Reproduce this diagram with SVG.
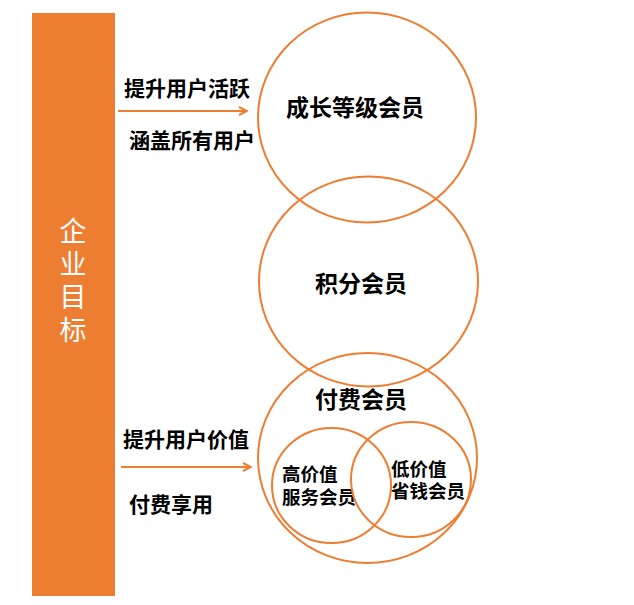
<svg xmlns="http://www.w3.org/2000/svg" width="634" height="605" viewBox="0 0 634 605">
<style>
.c{fill:none;stroke:#ED7D31;stroke-width:2}
.t{font-family:"Noto Sans CJK SC",sans-serif;font-weight:bold;fill:#000}
.l{font-size:21px}
.n{font-size:23px;text-anchor:middle}
.s{font-size:18.5px}
.w{font-family:"Noto Sans CJK SC",sans-serif;font-size:27px;fill:#fff;writing-mode:vertical-rl;letter-spacing:6px}
.a{fill:none;stroke:#ED7D31;stroke-width:2}
</style>
<defs>
<marker id="arr" viewBox="0 0 10 10" refX="9" refY="5" markerWidth="10" markerHeight="10" markerUnits="userSpaceOnUse" orient="auto">
<path d="M1,1 L9,5 L1,9" fill="none" stroke="#ED7D31" stroke-width="2"/>
</marker>
</defs>
<rect width="634" height="605" fill="#fff"/>
<g id="goal">
<rect x="32" y="13" width="83" height="583" fill="#ED7D31"/>
<text class="w" x="73" y="217">企业目标</text>
</g>
<g id="connectors">
<line class="a" x1="118" y1="111" x2="247" y2="111" marker-end="url(#arr)"/>
<line class="a" x1="121" y1="467" x2="251" y2="467" marker-end="url(#arr)"/>
<text class="t l" x="124" y="96">提升用户活跃</text>
<text class="t l" x="129" y="148">涵盖所有用户</text>
<text class="t l" x="123" y="447">提升用户价值</text>
<text class="t l" x="129" y="512">付费享用</text>
</g>
<g id="growth">
<ellipse class="c" cx="367" cy="117.5" rx="109" ry="105"/>
<text class="t n" x="355" y="116">成长等级会员</text>
</g>
<g id="points">
<ellipse class="c" cx="368.5" cy="281.5" rx="109.5" ry="105"/>
<text class="t n" x="361" y="292">积分会员</text>
</g>
<g id="paid">
<ellipse class="c" cx="367.5" cy="458" rx="109.5" ry="105"/>
<text class="t n" x="361" y="408">付费会员</text>
</g>
<g id="high">
<ellipse class="c" cx="331.5" cy="485.5" rx="59.5" ry="57.5"/>
<text class="t s" x="282" y="481">高价值<tspan x="282" dy="23">服务会员</tspan></text>
</g>
<g id="low">
<ellipse class="c" cx="411" cy="479.5" rx="60" ry="57.5"/>
<text class="t s" x="391" y="476">低价值<tspan x="391" dy="22">省钱会员</tspan></text>
</g>
</svg>
